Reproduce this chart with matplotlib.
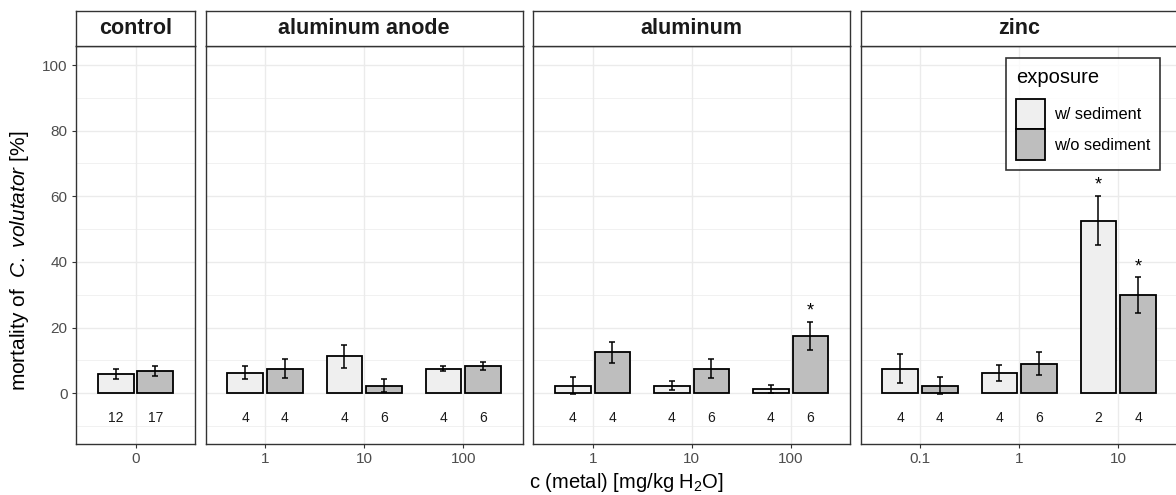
import matplotlib
matplotlib.use("Agg")
import matplotlib.pyplot as plt
from matplotlib.patches import Patch
import numpy as np

plt.rcParams['font.family'] = ['Liberation Sans', 'DejaVu Sans']
plt.rcParams['mathtext.fontset'] = 'custom'
plt.rcParams['mathtext.rm'] = 'Liberation Sans'
plt.rcParams['mathtext.it'] = 'Liberation Sans:italic'

# ---------------- data ----------------
panel_names = ["control", "aluminum anode", "aluminum", "zinc"]
concentrations = [["0"], ["1", "10", "100"], ["1", "10", "100"], ["0.1", "1", "10"]]

sed_mean = [[5.8], [6.2, 11.2, 7.5], [2.3, 2.3, 1.2], [7.5, 6.2, 52.6]]
sed_err = [[1.6], [2.0, 3.6, 0.8], [2.7, 1.4, 1.2], [4.3, 2.5, 7.4]]
wo_mean = [[6.7], [7.5, 2.3, 8.3], [12.4, 7.5, 17.5], [2.3, 9.0, 29.9]]
wo_err = [[1.5], [2.8, 1.9, 1.2], [3.3, 2.9, 4.3], [2.7, 3.6, 5.4]]
sed_n = [[12], [4, 4, 4], [4, 4, 4], [4, 4, 2]]
wo_n = [[17], [4, 6, 6], [4, 6, 6], [4, 6, 4]]
sed_star = [[False], [False, False, False], [False, False, False], [False, False, True]]
wo_star = [[False], [False, False, False], [False, False, True], [False, False, True]]

series_labels = ["w/ sediment", "w/o sediment"]
legend_title = "exposure"
y_major = [0, 20, 40, 60, 80, 100]
y_minor = [-10, 10, 30, 50, 70, 90]

# ---------------- styles ----------------
W, H = 1176, 495
DPI = 100
light = "#EFEFEF"
dark = "#BEBEBE"
border = "#333333"
gridc = "#EBEBEB"
tickc = "#4D4D4D"

panel_px = [(76, 195), (205.7, 522.7), (533.3, 850), (860.7, 1177.7)]
plot_top, plot_bot = 46, 444
strip_top = 10.7

def rect(x0, x1, y0, y1):
    return [x0 / W, 1 - y1 / H, (x1 - x0) / W, (y1 - y0) / H]

fig = plt.figure(figsize=(W / DPI, H / DPI), dpi=DPI)

axes = []
for i, name in enumerate(panel_names):
    x0, x1 = panel_px[i]
    ax = fig.add_axes(rect(x0, x1, plot_top, plot_bot))
    axes.append(ax)
    cats = concentrations[i]
    x = np.arange(len(cats))
    ax.set_xlim(-0.6, len(cats) - 1 + 0.6)
    ax.set_ylim(-15.5, 105.8)
    ax.set_yticks(y_major)
    ax.set_yticks(y_minor, minor=True)
    ax.set_xticks(x)
    ax.set_xticklabels(cats)
    ax.grid(True, which='major', color=gridc, lw=1.0, zorder=0)
    ax.grid(True, which='minor', axis='y', color=gridc, lw=0.5, zorder=0)
    ax.set_axisbelow(True)
    ax.tick_params(axis='x', which='major', length=3, width=0.8, color=border,
                   labelsize=11, labelcolor=tickc, pad=3)
    ax.tick_params(axis='y', which='minor', length=0)
    if i == 0:
        ax.tick_params(axis='y', which='major', length=3, width=0.8, color=border,
                       labelsize=11, labelcolor=tickc, pad=3)
    else:
        ax.tick_params(axis='y', which='major', length=0, labelleft=False)
    for s in ax.spines.values():
        s.set_color(border)
        s.set_linewidth(1.0)

    bw = 0.36
    off = 0.2
    ax.bar(x - off, sed_mean[i], width=bw, color=light, edgecolor='black', lw=1.3, zorder=3)
    ax.bar(x + off, wo_mean[i], width=bw, color=dark, edgecolor='black', lw=1.3, zorder=3)
    ax.errorbar(x - off, sed_mean[i], yerr=sed_err[i], fmt='none', ecolor='black',
                elinewidth=1.1, capsize=2.4, capthick=1.1, zorder=4)
    ax.errorbar(x + off, wo_mean[i], yerr=wo_err[i], fmt='none', ecolor='black',
                elinewidth=1.1, capsize=2.4, capthick=1.1, zorder=4)
    for j in range(len(cats)):
        ax.text(x[j] - off, -7.6, str(sed_n[i][j]), ha='center', va='center',
                fontsize=10, color='#1A1A1A')
        ax.text(x[j] + off, -7.6, str(wo_n[i][j]), ha='center', va='center',
                fontsize=10, color='#1A1A1A')
        if sed_star[i][j]:
            ax.text(x[j] - off, sed_mean[i][j] + sed_err[i][j] + 3.3, "*",
                    ha='center', va='center', fontsize=13, color='black')
        if wo_star[i][j]:
            ax.text(x[j] + off, wo_mean[i][j] + wo_err[i][j] + 3.3, "*",
                    ha='center', va='center', fontsize=13, color='black')

    # strip
    sax = fig.add_axes(rect(x0, x1, strip_top, plot_top))
    sax.set_xticks([])
    sax.set_yticks([])
    sax.set_facecolor('white')
    for s in sax.spines.values():
        s.set_color(border)
        s.set_linewidth(1.0)
    sax.text(0.5, 0.5, name, ha='center', va='center', fontsize=15.5,
             fontweight='bold', color='#1A1A1A', transform=sax.transAxes)

# axis titles
fig.text(20 / W, 1 - 261 / H, "mortality of  $\\mathit{C.\\ volutator}$ [%]",
         rotation=90, ha='center', va='center', fontsize=15, color='black')
fig.text(626 / W, 1 - 482 / H, "c (metal) [mg/kg H$_2$O]",
         ha='center', va='center', fontsize=14.5, color='black')

# legend
handles = [Patch(facecolor=light, edgecolor='black', lw=1.3),
           Patch(facecolor=dark, edgecolor='black', lw=1.3)]
leg = axes[3].legend(handles, series_labels, title=legend_title,
                     loc='upper left', bbox_to_anchor=(1005.7 / W, 1 - 58.3 / H),
                     bbox_transform=fig.transFigure, frameon=True, fancybox=False,
                     fontsize=11.8, title_fontsize=14.5, alignment='left',
                     handlelength=1.75, handleheight=2.5, labelspacing=0.0,
                     handletextpad=0.55, borderpad=0.62, borderaxespad=0)
leg._legend_box.sep = 8
leg.get_frame().set_edgecolor('black')
leg.get_frame().set_linewidth(1.2)

fig.savefig("out.png", dpi=DPI)
